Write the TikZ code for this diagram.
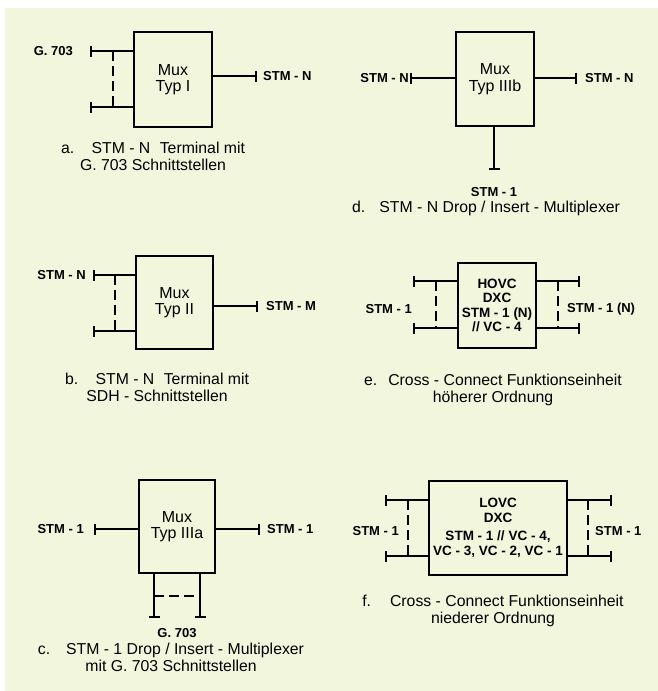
\documentclass[tikz,border=0pt]{standalone}
\usepackage{fontspec}
\setmainfont{Liberation Sans}
\usetikzlibrary{arrows.meta}
\definecolor{paper}{RGB}{242,246,221}

\begin{document}
\begin{tikzpicture}[x=1pt, y=-1pt,
  box/.style={draw, line width=2.6pt, inner sep=0pt, align=center},
  muxtext/.style={font=\fontsize{16}{16.5}\selectfont},
  dxctext/.style={font=\bfseries\fontsize{13.5}{14.5}\selectfont},
  lead/.style={line width=1.6pt, -{Bar[width=11pt]}},
  link/.style={line width=1.1pt, dash pattern=on 10pt off 5pt},
  port/.style={font=\bfseries\fontsize{13}{14}\selectfont, inner sep=0pt},
  capt/.style={font=\fontsize{15.8}{16.8}\selectfont, align=center}]

\useasboundingbox (0,0) rectangle (658,691);
\fill[white] (0,0) rectangle (658,691);
\fill[paper] (5,8) rectangle (658,691);

%==== (a) Mux Typ I ====
\node[box,muxtext,minimum width=78pt,minimum height=95pt] (muxA) at (173,79.5) {Mux\\Typ I};
\coordinate (a1) at (90,51);
\coordinate (a2) at (90,107);
\coordinate (a3) at (257,76);
\coordinate (ad1) at (113,51);
\coordinate (ad2) at (113,107);
\draw[lead] (muxA.west |- a1) -- (a1);
\draw[lead] (muxA.west |- a2) -- (a2);
\draw[lead] (muxA.east |- a3) -- (a3);
\draw[link] (ad1) -- (ad2);
\node[port,anchor=east] (gA) at (73,51) {G. 703};
\node[port,anchor=west] (stmA) at (263,76) {STM - N};
\node[capt] (capA) at (153,156.5) {a.\hspace{1.1em}STM - N\hspace{0.6em}Terminal mit\\G. 703 Schnittstellen};

%==== (d) Mux Typ IIIb ====
\node[box,muxtext,minimum width=78pt,minimum height=94pt] (muxD) at (495,79) {Mux\\Typ IIIb};
\coordinate (d1) at (410,78);
\coordinate (d2) at (577,78);
\coordinate (d3) at (494,170);
\draw[lead] (muxD.west |- d1) -- (d1);
\draw[lead] (muxD.east |- d2) -- (d2);
\draw[lead] (muxD.south -| d3) -- (d3);
\node[port,anchor=east] (stmDl) at (409,78) {STM - N};
\node[port,anchor=west] (stmDr) at (585,78) {STM - N};
\node[port] (stmDb) at (494,192) {STM - 1};
\node[capt] (capD) at (486,208) {d.\hspace{0.9em}STM - N Drop / Insert - Multiplexer};

%==== (b) Mux Typ II ====
\node[box,muxtext,minimum width=77pt,minimum height=93pt] (muxB) at (174.5,302.5) {Mux\\Typ II};
\coordinate (b1) at (93,275);
\coordinate (b2) at (93,331);
\coordinate (b3) at (258,306);
\coordinate (bd1) at (115,275);
\coordinate (bd2) at (115,331);
\draw[lead] (muxB.west |- b1) -- (b1);
\draw[lead] (muxB.west |- b2) -- (b2);
\draw[lead] (muxB.east |- b3) -- (b3);
\draw[link] (bd1) -- (bd2);
\node[port,anchor=east] (stmBl) at (86,275) {STM - N};
\node[port,anchor=west] (stmBr) at (266,306) {STM - M};
\node[capt] (capB) at (157,387.5) {b.\hspace{1.1em}STM - N\hspace{0.6em}Terminal mit\\SDH - Schnittstellen};

%==== (e) HOVC DXC ====
\node[box,dxctext,minimum width=78pt,minimum height=85pt] (hovc) at (497,305.5) {HOVC\\DXC\\STM - 1 (N)\\// VC - 4};
\coordinate (e1) at (413,281);
\coordinate (e2) at (413,328);
\coordinate (e3) at (580,281);
\coordinate (e4) at (580,328);
\coordinate (ed1) at (436,281);
\coordinate (ed2) at (436,328);
\coordinate (ed3) at (558,281);
\coordinate (ed4) at (558,328);
\draw[lead] (hovc.west |- e1) -- (e1);
\draw[lead] (hovc.west |- e2) -- (e2);
\draw[lead] (hovc.east |- e3) -- (e3);
\draw[lead] (hovc.east |- e4) -- (e4);
\draw[link] (ed1) -- (ed2);
\draw[link] (ed3) -- (ed4);
\node[port,anchor=east] (stmEl) at (412,309) {STM - 1};
\node[port,anchor=west] (stmEr) at (567,309) {STM - 1 (N)};
\node[capt] (capE) at (493,390) {e.\hspace{0.7em}Cross - Connect Funktionseinheit\\höherer Ordnung};

%==== (c) Mux Typ IIIa ====
\node[box,muxtext,minimum width=76pt,minimum height=93pt] (muxC) at (177,526.5) {Mux\\Typ IIIa};
\coordinate (c1) at (94,529);
\coordinate (c2) at (260,529);
\coordinate (c3) at (154,618);
\coordinate (c4) at (200,618);
\coordinate (cd1) at (154,596);
\coordinate (cd2) at (200,596);
\draw[lead] (muxC.west |- c1) -- (c1);
\draw[lead] (muxC.east |- c2) -- (c2);
\draw[lead] (muxC.south -| c3) -- (c3);
\draw[lead] (muxC.south -| c4) -- (c4);
\draw[link] (cd1) -- (cd2);
\node[port,anchor=east] (stmCl) at (84,529) {STM - 1};
\node[port,anchor=west] (stmCr) at (267,529) {STM - 1};
\node[port] (gC) at (177,633) {G. 703};
\node[capt] (capC) at (171,657.5) {c.\hspace{1em}STM - 1 Drop / Insert - Multiplexer\\mit G. 703 Schnittstellen};

%==== (f) LOVC DXC ====
\node[box,dxctext,minimum width=138pt,minimum height=94pt] (lovc) at (498,528) {LOVC\\DXC\\[4pt]STM - 1 // VC - 4,\\VC - 3, VC - 2, VC - 1};
\coordinate (f1) at (385,500);
\coordinate (f2) at (385,556);
\coordinate (f3) at (612,500);
\coordinate (f4) at (612,556);
\coordinate (fd1) at (408,500);
\coordinate (fd2) at (408,556);
\coordinate (fd3) at (588,500);
\coordinate (fd4) at (588,556);
\draw[lead] (lovc.west |- f1) -- (f1);
\draw[lead] (lovc.west |- f2) -- (f2);
\draw[lead] (lovc.east |- f3) -- (f3);
\draw[lead] (lovc.east |- f4) -- (f4);
\draw[link] (fd1) -- (fd2);
\draw[link] (fd3) -- (fd4);
\node[port,anchor=east] (stmFl) at (399,531) {STM - 1};
\node[port,anchor=west] (stmFr) at (595,531) {STM - 1};
\node[capt] (capF) at (493,611) {f.\hspace{1.2em}Cross - Connect Funktionseinheit\\niederer Ordnung};

\end{tikzpicture}
\end{document}
